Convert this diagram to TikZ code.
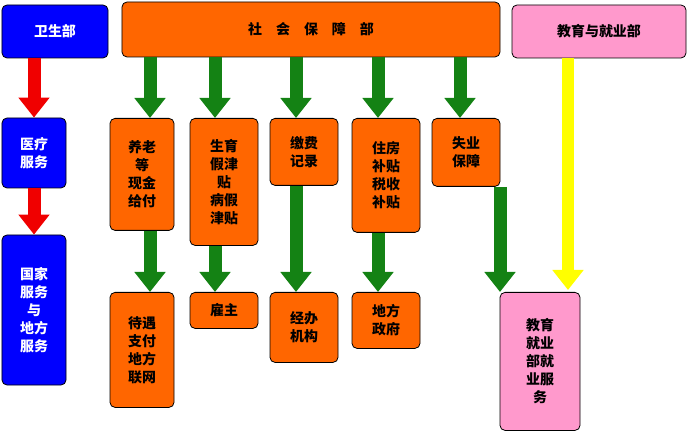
\documentclass[tikz,border=0pt]{standalone}
\usepackage{fontspec}
\newfontfamily\cjk{Noto Sans CJK SC}
\usetikzlibrary{arrows.meta}
\definecolor{boxorange}{RGB}{255,102,0}
\definecolor{boxblue}{RGB}{0,0,255}
\definecolor{boxpink}{RGB}{255,153,204}
\definecolor{arrgreen}{RGB}{20,130,20}
\definecolor{arrred}{RGB}{240,0,0}
\definecolor{arryellow}{RGB}{255,255,0}
\tikzset{
  box/.style={draw=black, thick, rounded corners=5bp, inner sep=1bp, align=center,
    font=\cjk\bfseries\fontsize{14}{18}\selectfont},
  orange/.style={box, fill=boxorange},
  blue/.style={box, fill=boxblue, text=white},
  pink/.style={box, fill=boxpink},
  flow/.style={line width=13bp, -{Triangle[width=30bp,length=20bp]}},
}
\begin{document}
\begin{tikzpicture}[x=1bp, y=-1bp]
  \useasboundingbox (0,0) rectangle (690,435);
  % top row
  \node[blue, minimum width=106bp, minimum height=53bp] (wsb) at (55,31.5) {卫生部};
  \node[orange, minimum width=378bp, minimum height=55bp] (shb) at (311,29.5) {社\quad 会\quad 保\quad 障\quad 部};
  \node[pink, minimum width=174bp, minimum height=53bp] (jyb) at (599,31.5) {教育与就业部};
  % left column
  \node[blue, minimum width=64bp, minimum height=70bp] (yl) at (34,153) {医疗\\服务};
  \node[blue, minimum width=64bp, minimum height=150bp] (gj) at (34,310) {国家\\服务\\与\\地方\\服务};
  % first row under social security
  \node[orange, minimum width=64bp, minimum height=112bp, anchor=north] (yanglao) at (142,118) {养老\\等\\现金\\给付};
  \node[orange, minimum width=68bp, minimum height=127bp, anchor=north] (shengyu) at (224,118) {生育\\假津\\贴\\病假\\津贴};
  \node[orange, minimum width=68bp, minimum height=67bp, anchor=north] (jiaofei) at (304,118) {缴费\\记录};
  \node[orange, minimum width=68bp, minimum height=114bp, anchor=north] (zhufang) at (386,118) {住房\\补贴\\税收\\补贴};
  \node[orange, minimum width=68bp, minimum height=68bp, anchor=north] (shiye) at (466,118) {失业\\保障};
  % second row
  \node[orange, minimum width=64bp, minimum height=115bp, anchor=north] (daiyu) at (142,292) {待遇\\支付\\地方\\联网};
  \node[orange, minimum width=68bp, minimum height=36bp, anchor=north] (guzhu) at (224,292) {雇主};
  \node[orange, minimum width=68bp, minimum height=70bp, anchor=north] (jingban) at (304,292) {经办\\机构};
  \node[orange, minimum width=68bp, minimum height=56bp, anchor=north] (difang) at (386,292) {地方\\政府};
  \node[pink, minimum width=80bp, minimum height=138bp, anchor=north] (jyfw) at (540,292) {教育\\就业\\部就\\业服\\务};
  % arrows
  \draw[flow, arrred] (wsb.south -| yl.north) -- (yl.north);
  \draw[flow, arrred] (yl) -- (gj);
  \foreach \t/\x in {yanglao/150, shengyu/215, jiaofei/296, zhufang/378, shiye/460}
    \draw[flow, arrgreen] (\x,57) -- (\x,118);
  \foreach \a/\b/\x in {yanglao/daiyu/150, shengyu/guzhu/215, jiaofei/jingban/296, zhufang/difang/378}
    \draw[flow, arrgreen] (\a.south -| \x,0) -- (\b.north -| \x,0);
  \draw[flow, arrgreen] (shiye.south -| 500,0) -- (500,292);
  \draw[flow, arryellow, line width=12bp] (jyb.south -| 568,0) -- (568,290);
\end{tikzpicture}
\end{document}
